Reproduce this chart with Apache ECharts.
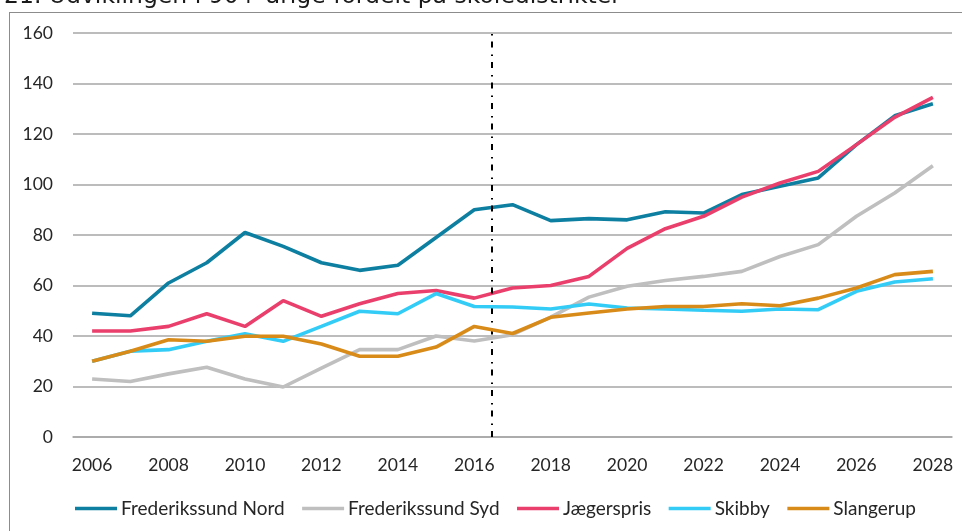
<!DOCTYPE html>
<html>
<head>
<meta charset="utf-8">
<script src="https://cdn.jsdelivr.net/npm/echarts@6/dist/echarts.min.js"></script>
<style>
  html, body { margin: 0; padding: 0; background: #fff; }
  #frame { position: absolute; left: 9px; top: 12px; width: 1000px; height: 600px;
           border-left: 1.5px solid #8c8c8c; border-top: 1.5px solid #8c8c8c; }
  #chart { position: absolute; left: 0; top: 0; width: 962px; height: 531px; }
</style>
</head>
<body>
<div id="frame"></div>
<div id="chart"></div>
<script>
const titleText = '21. Udviklingen i 90+ årige fordelt på skoledistrikter';
const years = ['2006','2007','2008','2009','2010','2011','2012','2013','2014','2015','2016','2017','2018','2019','2020','2021','2022','2023','2024','2025','2026','2027','2028'];
const forecastBoundary = 2016.45;

const frederikssundNord = [49, 48, 61, 69, 81, 75.5, 69, 66, 68, 79, 90, 92, 85.7, 86.5, 86, 89.2, 88.7, 96, 99.3, 102.6, 115.8, 127.2, 132];
const frederikssundSyd  = [23, 22, 25, 27.6, 23, 19.8, 27.3, 34.6, 34.6, 40, 38, 40.5, 47.5, 55.4, 59.7, 62, 63.6, 65.6, 71.5, 76.2, 87.4, 96.6, 107.4];
const jaegerspris       = [42, 42, 43.8, 48.8, 43.8, 54, 47.8, 52.8, 56.8, 58, 55, 59, 60, 63.6, 74.7, 82.5, 87.4, 95, 100.6, 105.2, 115.8, 126.6, 134.5];
const skibby            = [30, 34, 34.6, 37.9, 40.9, 37.9, 43.8, 49.8, 48.8, 56.8, 51.7, 51.5, 50.7, 52.7, 51.1, 50.7, 50.2, 49.8, 50.7, 50.4, 57.7, 61.4, 62.7];
const slangerup         = [30, 34, 38.5, 37.9, 39.9, 39.9, 36.8, 32, 32, 35.6, 43.8, 41, 47.4, 49.1, 50.7, 51.7, 51.7, 52.8, 52, 55, 59, 64.3, 65.6];

const seriesNames = ['Frederikssund Nord', 'Frederikssund Syd', 'Jægerspris', 'Skibby', 'Slangerup'];
const seriesData = [frederikssundNord, frederikssundSyd, jaegerspris, skibby, slangerup];
const colors = ['#0d7fa1', '#bfbfbf', '#ea3f6c', '#33ccf7', '#d98b19'];

const font = 'Lato, "Open Sans", sans-serif';
const chart = echarts.init(document.getElementById('chart'));

const series = seriesNames.map((name, i) => ({
  name: name,
  type: 'line',
  data: seriesData[i],
  showSymbol: false,
  symbol: 'none',
  lineStyle: { width: 3.6, color: colors[i] },
  itemStyle: { color: colors[i] },
  z: 2 + i
}));

series.push({
  name: 'boundary',
  type: 'line',
  xAxisIndex: 1,
  data: [],
  markLine: {
    silent: true,
    symbol: 'none',
    label: { show: false },
    lineStyle: { color: '#000', width: 2, type: [6, 6, 1.5, 7] },
    data: [{ xAxis: forecastBoundary }]
  }
});

chart.setOption({
  animation: false,
  color: colors,
  title: {
    text: titleText,
    left: 4,
    top: -15,
    padding: 0,
    textStyle: { fontFamily: '"DejaVu Sans", sans-serif', fontSize: 23.5, fontWeight: 'normal', color: '#1a1a1a' }
  },
  grid: { left: 73, right: 10, top: 33, bottom: 94, containLabel: false },
  legend: {
    data: seriesNames,
    bottom: 13,
    left: 75,
    padding: 0,
    icon: 'rect',
    itemWidth: 42,
    itemHeight: 3.5,
    itemGap: 17.5,
    textStyle: { fontFamily: font, fontSize: 19, color: '#262626', padding: [0, 0, 0, -1] }
  },
  xAxis: [{
    type: 'category',
    data: years,
    boundaryGap: true,
    axisLine: { show: true, lineStyle: { color: '#a6a6a6', width: 1.5 } },
    axisTick: { show: false },
    axisLabel: { interval: 1, margin: 19, fontFamily: font, fontSize: 17.5, color: '#262626' }
  }, {
    type: 'value',
    min: 2005.5,
    max: 2028.5,
    show: false
  }],
  yAxis: {
    type: 'value',
    min: 0,
    max: 160,
    interval: 20,
    axisLine: { show: false },
    axisTick: { show: false },
    splitLine: { lineStyle: { color: '#a6a6a6', width: 1.5 } },
    axisLabel: { margin: 20, fontFamily: font, fontSize: 17.5, color: '#262626' }
  },
  series: series
});
</script>
</body>
</html>
